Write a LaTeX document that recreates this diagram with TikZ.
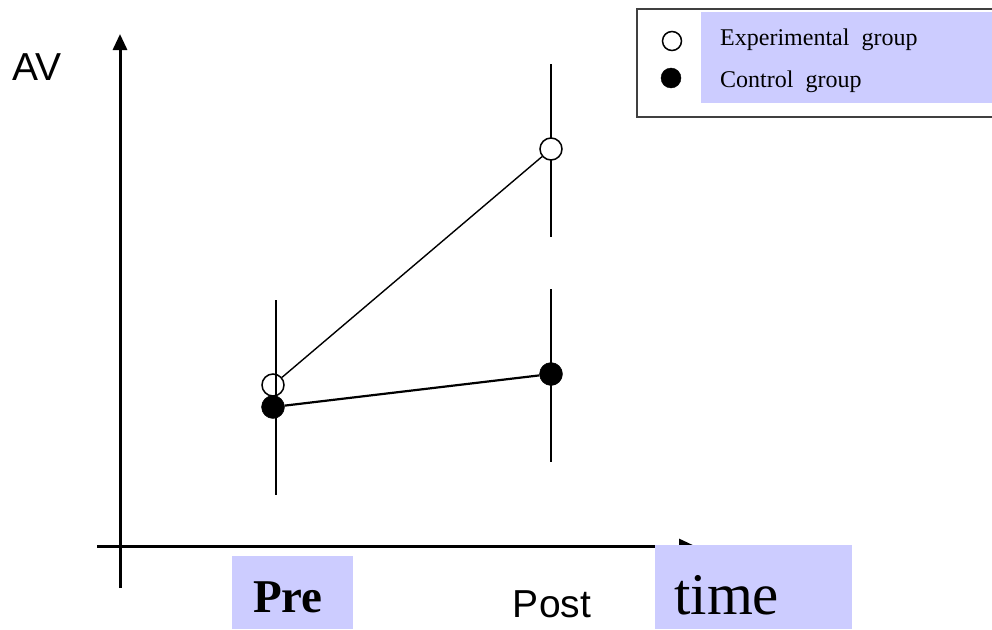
\documentclass[tikz,border=0pt]{standalone}
\usepackage{fontspec}
\setmainfont{Liberation Serif}
\newfontfamily\axisfont{Liberation Sans}
\usetikzlibrary{arrows.meta}
\definecolor{lav}{HTML}{CCCCFF}
\begin{document}
\begin{tikzpicture}[x=1pt,y=-1pt,
  axisline/.style={line width=3pt,-{Triangle[length=16pt,width=14pt]}},
  errbar/.style={line width=2pt},
  openmark/.style={circle,draw=black,line width=1.5pt,minimum size=22pt,inner sep=0pt},
  fullmark/.style={circle,fill=black,draw=black,minimum size=23pt,inner sep=0pt},
  lavbox/.style={fill=lav,draw=none,inner sep=0pt},
  sanslabel/.style={font=\axisfont\fontsize{39}{39}\selectfont,inner sep=0pt},
]
\useasboundingbox (0,0) rectangle (992,629);
\clip (0,0) rectangle (992,629);

% axes
\coordinate (yorig) at (120,588);
\coordinate (ytip) at (120,34);
\coordinate (xorig) at (97,546);
\coordinate (xtip) at (695,546);
\draw[axisline] (yorig) -- (ytip);
\draw[axisline] (xorig) -- (xtip);

% error bars
\coordinate (preTop) at (276,300);
\coordinate (preBot) at (276,495);
\coordinate (postETop) at (551,64);
\coordinate (postEBot) at (551,237);
\coordinate (postCTop) at (551,289);
\coordinate (postCBot) at (551,462);
\draw[errbar] (preTop) -- (preBot);
\draw[errbar] (postETop) -- (postEBot);
\draw[errbar] (postCTop) -- (postCBot);

% group means
\node[openmark] (ePre) at (273,385) {};
\node[openmark,fill=white] (ePost) at (551,149) {};
\node[fullmark] (cPre) at (273,407) {};
\node[fullmark] (cPost) at (551,374) {};
\draw[line width=1.4pt] (ePre) -- (ePost);
\draw[line width=2.2pt] (cPre) -- (cPost);

% axis labels
\node[sanslabel,anchor=base west] (av) at (12,80) {AV};
\node[sanslabel,anchor=base] (post) at (552,617) {Post};
\node[lavbox,minimum width=121pt,minimum height=73pt,anchor=north west] (prebox) at (232,556) {};
\node[anchor=base,inner sep=0pt,font=\fontsize{47}{47}\selectfont\bfseries] (pre) at (288,612) {Pre};
\node[lavbox,minimum width=197pt,minimum height=84pt,anchor=north west] (timebox) at (655,545) {};
\node[anchor=base west,inner sep=0pt,font=\fontsize{59}{59}\selectfont] (time) at (674,614) {time};

% legend
\draw[line width=2pt,draw=black!75,fill=white] (637,9) rectangle (1010,117);
\node[lavbox,minimum width=300pt,minimum height=91pt,anchor=north west] (legbox) at (701,12) {};
\node[openmark,minimum size=19pt,line width=1.5pt] (legE) at (672,41) {};
\node[fullmark,minimum size=20pt] (legC) at (671,78) {};
\node[anchor=base west,inner sep=0pt,font=\fontsize{24}{24}\selectfont] (legEt) at (720,45) {Experimental\ \ group};
\node[anchor=base west,inner sep=0pt,font=\fontsize{24}{24}\selectfont] (legCt) at (720,87) {Control\ \ group};
\end{tikzpicture}
\end{document}
